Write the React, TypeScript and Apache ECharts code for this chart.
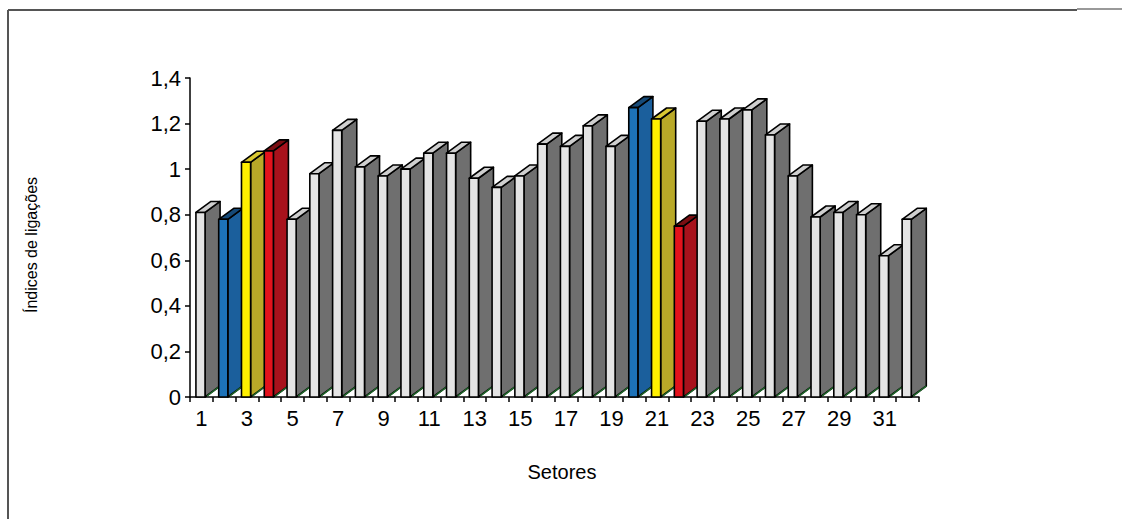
import React, { useEffect, useRef } from "react";
import * as echarts from "echarts";

const sectors = Array.from({ length: 32 }, (_, i) => String(i + 1));
const values = [
  0.81, 0.78, 1.03, 1.08, 0.78, 0.98, 1.17, 1.01, 0.97, 1.0, 1.07, 1.07,
  0.96, 0.92, 0.97, 1.11, 1.1, 1.19, 1.1, 1.27, 1.22, 0.75, 1.21, 1.22,
  1.26, 1.15, 0.97, 0.79, 0.81, 0.8, 0.62, 0.78,
];
// colour group of each sector: 0 grey, 1 blue, 2 yellow, 3 red
const groups = [
  0, 1, 2, 3, 0, 0, 0, 0, 0, 0, 0, 0, 0, 0, 0, 0, 0, 0, 0, 1, 2, 3, 0, 0, 0,
  0, 0, 0, 0, 0, 0, 0,
];
const yTicks = [0, 0.2, 0.4, 0.6, 0.8, 1, 1.2, 1.4];

const palette = [
  { front: "#e4e4e4", side: "#6f6f6f", top: "#cfcfcf" },
  { front: "#1d72b8", side: "#1b5f9c", top: "#164a78" },
  { front: "#fff000", side: "#b9a928", top: "#d9c832" },
  { front: "#e3121c", side: "#a8121c", top: "#7a0e12" },
];

const FONT = "'Liberation Sans', Arial, sans-serif";

export default function App() {
  const ref = useRef<HTMLDivElement>(null);
  useEffect(() => {
    const chart = echarts.init(ref.current!, null, { renderer: "svg" });
    const data = values.map((v, i) => [i, v, groups[i]]);
    chart.setOption({
      animation: false,
      backgroundColor: "#ffffff",
      grid: { left: 190, right: 203, top: 78, bottom: 122 },
      xAxis: {
        type: "category",
        data: sectors,
        boundaryGap: true,
        axisLine: { lineStyle: { color: "#000", width: 1.5 } },
        axisTick: { show: true, interval: 0, length: 5, lineStyle: { color: "#000", width: 1.5 } },
        axisLabel: {
          interval: 1,
          color: "#000",
          fontSize: 22,
          fontFamily: FONT,
          margin: 10,
        },
        splitLine: { show: false },
      },
      yAxis: {
        type: "value",
        min: 0,
        max: 1.4,
        interval: 0.2,
        axisLine: { show: true, lineStyle: { color: "#000", width: 1.5 } },
        axisTick: { show: true, length: 5, lineStyle: { color: "#000", width: 1.5 } },
        axisLabel: {
          color: "#000",
          fontSize: 22,
          fontFamily: FONT,
          margin: 9,
          formatter: (v: number) => {
            const t = yTicks.find((k) => Math.abs(k - v) < 1e-6);
            return String(Math.round((t ?? v) * 10) / 10).replace(".", ",");
          },
        },
        splitLine: { show: false },
      },
      graphic: [
        { type: "line", shape: { x1: 8, y1: 10, x2: 1077, y2: 10 }, style: { stroke: "#555", lineWidth: 2 } },
        { type: "line", shape: { x1: 1077, y1: 9, x2: 1122, y2: 9 }, style: { stroke: "#999", lineWidth: 2 } },
        { type: "line", shape: { x1: 8, y1: 10, x2: 8, y2: 519 }, style: { stroke: "#555", lineWidth: 2 } },
        {
          type: "text",
          x: 31,
          y: 245,
          rotation: Math.PI / 2,
          style: {
            text: "Índices de ligações",
            fontSize: 16,
            fontFamily: FONT,
            fill: "#000",
            align: "center",
            verticalAlign: "middle",
          },
        },
        {
          type: "text",
          x: 562,
          y: 472,
          style: {
            text: "Setores",
            fontSize: 20,
            fontFamily: FONT,
            fill: "#000",
            align: "center",
            verticalAlign: "middle",
          },
        },
      ],
      series: [
        {
          type: "custom",
          clip: false,
          data,
          encode: { x: 0, y: 1 },
          renderItem: (params: any, api: any) => {
            const i = api.value(0);
            const v = api.value(1);
            const g = api.value(2);
            const top = api.coord([i, v]);
            const base = api.coord([i, 0]);
            const w = api.size([1, 0])[0];
            const cx = top[0];
            const x0 = cx - w * 0.24;
            const x1 = cx + w * 0.16;
            const dx = w * 0.66;
            const dy = -11;
            const yt = top[1];
            const yb = base[1];
            const c = palette[g];
            const stroke = { stroke: "#000", lineWidth: 1.6, lineJoin: "round" };
            return {
              type: "group",
              children: [
                {
                  type: "polygon",
                  shape: { points: [[x1, yb], [x1 + dx, yb + dy], [x1 + dx, yt + dy], [x1, yt]] },
                  style: { fill: c.side, ...stroke },
                },
                {
                  type: "polygon",
                  shape: { points: [[x0, yt], [x1, yt], [x1 + dx, yt + dy], [x0 + dx, yt + dy]] },
                  style: { fill: c.top, ...stroke },
                },
                {
                  type: "rect",
                  shape: { x: x0, y: yt, width: x1 - x0, height: yb - yt },
                  style: { fill: c.front, ...stroke },
                },
                {
                  type: "line",
                  shape: { x1: x1 + 2, y1: yb - 1, x2: x1 + dx, y2: yb + dy },
                  style: { stroke: "#1f6b2a", lineWidth: 1.5 },
                },
              ],
            };
          },
        },
      ],
    });
    return () => chart.dispose();
  }, []);
  return (
    <div
      ref={ref}
      style={{ position: "fixed", left: 0, top: 0, width: 1122, height: 519 }}
    />
  );
}
